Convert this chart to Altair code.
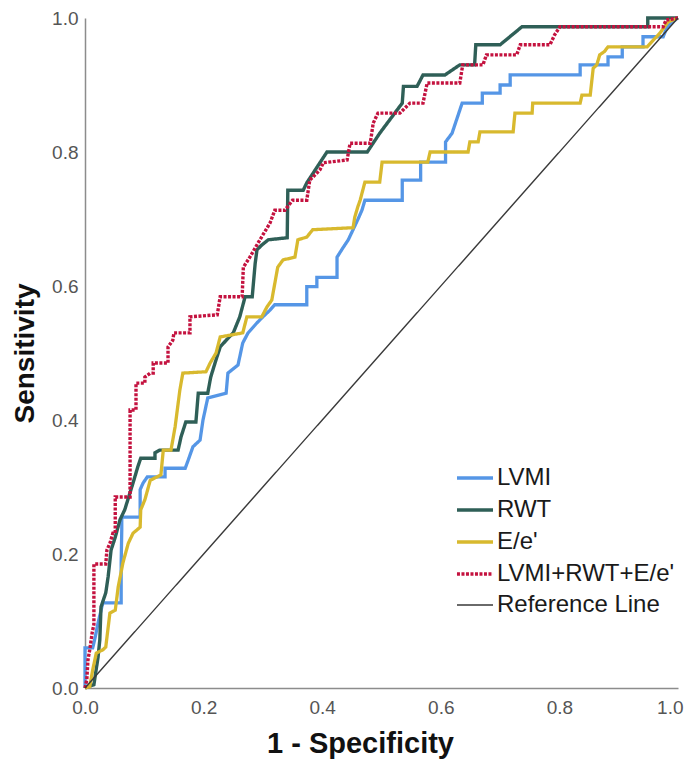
import altair as alt
import pandas as pd

series_names = ["LVMI", "RWT", "E/e'", "LVMI+RWT+E/e'", "Reference Line"]
series_colors = ["#5596e6", "#2f5f57", "#d8b92e", "#c4123f", "#3a3a3a"]

lvmi_x = [0, 0, .013, .017, .022, .030, .061, .061, .062, .062, .093, .093, .098, .105, .135, .135, .169, .174, .182, .194, .199, .207, .238, .241, .258, .266, .275, .290, .300, .312, .320, .374, .374, .391, .391, .425, .425, .435, .444, .452, .460, .467, .472, .535, .535, .566, .566, .608, .608, .619, .636, .670, .670, .700, .700, .717, .717, .835, .835, .882, .882, .906, .906, .941, .941, .975, .981, .990, 1]
lvmi_y = [0, .06, .06, .075, .097, .127, .127, .187, .236, .255, .255, .296, .306, .315, .315, .328, .328, .340, .360, .370, .400, .433, .440, .470, .482, .515, .530, .545, .554, .564, .572, .572, .599, .599, .613, .613, .643, .657, .669, .684, .699, .713, .728, .728, .758, .758, .785, .785, .815, .828, .873, .873, .888, .888, .900, .900, .915, .915, .930, .930, .942, .942, .957, .957, .972, .972, .985, .994, 1]

rwt_x = [0, .015, .022, .025, .027, .035, .039, .044, .051, .059, .067, .081, .089, .094, .118, .118, .126, .157, .162, .170, .187, .191, .207, .212, .221, .228, .238, .250, .261, .270, .282, .287, .290, .298, .309, .341, .342, .368, .374, .408, .476, .497, .535, .537, .560, .570, .607, .632, .657, .659, .700, .737, .949, .949, 1]
rwt_y = [0, .005, .046, .072, .121, .142, .166, .206, .225, .251, .266, .306, .330, .343, .343, .351, .355, .355, .375, .397, .397, .440, .440, .464, .490, .509, .519, .530, .554, .584, .584, .634, .654, .661, .669, .672, .743, .743, .754, .800, .800, .828, .873, .898, .898, .915, .915, .930, .930, .960, .960, .987, .987, 1.0, 1]

ee_x = [0, .008, .013, .019, .030, .035, .042, .051, .056, .064, .073, .081, .093, .094, .101, .110, .128, .132, .145, .152, .160, .165, .204, .211, .221, .228, .266, .273, .298, .307, .315, .325, .334, .354, .359, .374, .384, .452, .455, .460, .464, .472, .497, .501, .578, .582, .646, .649, .663, .666, .722, .725, .754, .755, .835, .838, .852, .857, .863, .868, .876, .882, .948, .970, .983, 1]
ee_y = [0, .002, .027, .052, .057, .061, .112, .116, .151, .187, .216, .231, .240, .266, .281, .310, .318, .355, .355, .390, .445, .470, .472, .485, .500, .524, .530, .554, .554, .569, .579, .628, .639, .643, .669, .673, .684, .687, .703, .718, .728, .755, .755, .785, .785, .800, .800, .815, .815, .830, .830, .858, .858, .873, .873, .885, .885, .925, .930, .945, .950, .957, .957, .978, .994, 1]

comb_x = [0, .003, .005, .008, .012, .015, .015, .035, .037, .042, .047, .051, .051, .076, .076, .086, .086, .101, .101, .110, .115, .115, .140, .140, .148, .150, .177, .177, .223, .228, .265, .267, .278, .295, .312, .320, .337, .350, .374, .379, .396, .402, .442, .447, .481, .486, .494, .531, .548, .570, .577, .632, .637, .671, .677, .728, .734, .784, .792, .801, .975, .980, 1]
comb_y = [0, .012, .042, .057, .082, .095, .185, .185, .206, .216, .231, .231, .285, .285, .415, .415, .455, .455, .464, .470, .470, .485, .485, .509, .519, .530, .530, .554, .557, .584, .584, .628, .643, .669, .694, .713, .713, .728, .728, .758, .773, .784, .788, .813, .813, .843, .858, .858, .873, .873, .903, .903, .930, .930, .945, .945, .960, .960, .975, .987, .987, .997, 1]

ref_x = [0, 1]
ref_y = [0, 1]

rows = []
for name, xs, ys in [("LVMI", lvmi_x, lvmi_y), ("RWT", rwt_x, rwt_y), ("E/e'", ee_x, ee_y),
                     ("LVMI+RWT+E/e'", comb_x, comb_y), ("Reference Line", ref_x, ref_y)]:
    for i, (a, b) in enumerate(zip(xs, ys)):
        rows.append({"series": name, "idx": i, "x": a, "y": b})
df = pd.DataFrame(rows)

FONT = "Liberation Sans"
legend = alt.Legend(
    title=None, orient="none", legendX=370, legendY=440,
    labelFont=FONT, labelFontSize=24, labelColor="#1a1a1a",
    symbolType="stroke", symbolSize=1300, symbolStrokeWidth=3,
    rowPadding=0, labelOffset=2, labelLimit=400, padding=0,
)

chart = alt.Chart(df).mark_line(strokeCap="butt", strokeJoin="miter").encode(
    x=alt.X("x:Q", scale=alt.Scale(domain=[0, 1], nice=False, zero=False),
            axis=alt.Axis(title="1 - Specificity", values=[0, 0.2, 0.4, 0.6, 0.8, 1.0], format=".1f",
                          grid=False, ticks=False, domainColor="#8c8c8c", domainWidth=1.5,
                          labelFont=FONT, labelFontSize=19, labelColor="#555555", labelPadding=10,
                          labelAlign={"condition": {"test": "datum.value == 1", "value": "right"}, "value": "center"},
                          labelOffset={"condition": {"test": "datum.value == 1", "value": 5}, "value": 0},
                          titleFont=FONT, titleFontSize=29, titleFontWeight="bold", titleColor="#111111",
                          titlePadding=12, titleX=275, titleAlign="center", labelFlush=False)),
    y=alt.Y("y:Q", scale=alt.Scale(domain=[0, 1], nice=False, zero=False),
            axis=alt.Axis(title="Sensitivity", values=[0, 0.2, 0.4, 0.6, 0.8, 1.0], format=".1f",
                          grid=False, ticks=False, domainColor="#8c8c8c", domainWidth=1.5,
                          labelFont=FONT, labelFontSize=19, labelColor="#555555", labelPadding=7,
                          titleFont=FONT, titleFontSize=28, titleFontWeight="bold", titleColor="#111111",
                          titlePadding=12, labelFlush=False)),
    color=alt.Color("series:N", scale=alt.Scale(domain=series_names, range=series_colors), legend=legend),
    strokeDash=alt.StrokeDash("series:N", scale=alt.Scale(domain=series_names,
                              range=[[1, 0], [1, 0], [1, 0], [3, 1.5], [1, 0]]), legend=legend),
    strokeWidth=alt.StrokeWidth("series:N", scale=alt.Scale(type="ordinal", domain=series_names,
                                range=[3.3, 3.4, 3.3, 3.4, 1.4]), legend=legend),
    order=alt.Order("idx:Q"),
).properties(
    width=593, height=670,
    autosize=alt.AutoSizeParams(type="none"),
    padding={"left": 77, "top": 10, "right": 6, "bottom": 74},
).configure_view(stroke=None)

chart.save("out.html", embed_options={"renderer": "svg", "actions": False})
